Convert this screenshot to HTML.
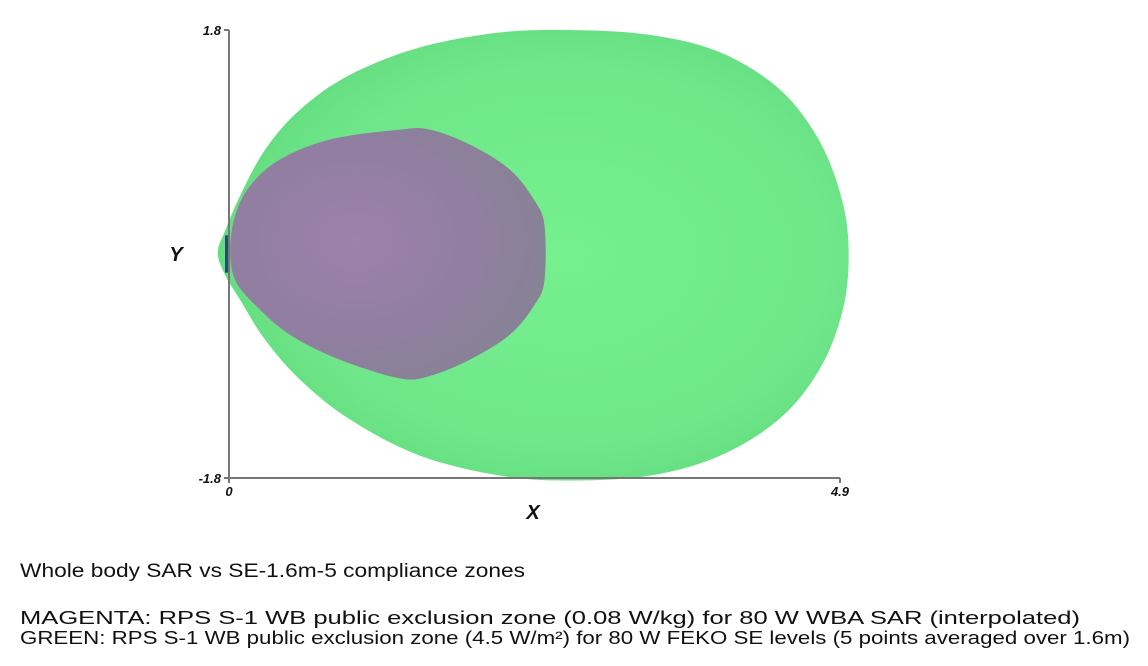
<!DOCTYPE html>
<html><head><meta charset="utf-8"><style>
html,body{margin:0;padding:0;background:#fff;}
svg{display:block;font-family:"Liberation Sans",sans-serif;}
</style></head><body>
<svg id="chart" width="1148" height="666" viewBox="0 0 1148 666" xmlns="http://www.w3.org/2000/svg">
<defs>
<radialGradient id="gGreen" cx="0.55" cy="0.5" r="0.6">
<stop offset="0" stop-color="#76f08e"/><stop offset="0.7" stop-color="#6fe78a"/><stop offset="1" stop-color="#60d87c"/>
</radialGradient>
<radialGradient id="gMag" cx="0.4" cy="0.45" r="0.6">
<stop offset="0" stop-color="#9c82ac"/><stop offset="0.6" stop-color="#927ea2"/><stop offset="1" stop-color="#888296"/>
</radialGradient>
</defs>
<g id="shapes"></g>
<g id="axes"></g>
<text x="20" y="577" font-size="19" textLength="505" lengthAdjust="spacingAndGlyphs" fill="#111">Whole body SAR vs SE-1.6m-5 compliance zones</text>
<text x="20" y="624" font-size="18" textLength="1060" lengthAdjust="spacingAndGlyphs" fill="#111">MAGENTA: RPS S-1 WB public exclusion zone (0.08 W/kg) for 80 W WBA SAR (interpolated)</text>
<text x="20" y="644" font-size="18" textLength="1110" lengthAdjust="spacingAndGlyphs" fill="#111">GREEN: RPS S-1 WB public exclusion zone (4.5 W/m²) for 80 W FEKO SE levels (5 points averaged over 1.6m)</text>
</svg>
<script>
const greenX=[-0.09,-0.03,0.09,0.29,0.57,0.97,1.53,2.17,2.73,3.38,3.94,4.42,4.74,4.92,4.97,4.92,4.74,4.42,3.94,3.38,2.73,2.17,1.53,0.97,0.57,0.29,0.09,-0.03];
const greenY=[0.01,0.19,0.47,0.84,1.16,1.44,1.66,1.78,1.80,1.76,1.62,1.32,0.90,0.42,-0.01,-0.46,-0.92,-1.32,-1.62,-1.78,-1.82,-1.78,-1.62,-1.33,-1.01,-0.69,-0.37,-0.17];
const magX=[0.01,0.05,0.17,0.41,0.81,1.37,1.61,1.93,2.25,2.45,2.53,2.53,2.45,2.25,1.93,1.61,1.37,0.89,0.49,0.21,0.05];
const magY=[0.03,0.31,0.55,0.76,0.92,1.00,1.00,0.88,0.68,0.43,0.23,-0.21,-0.41,-0.65,-0.85,-0.98,-1.00,-0.85,-0.65,-0.41,-0.21];
const xTicks=[0,4.9];
const xTickLabels=["0","4.9"];
const yTicks=[-1.8,1.8];
const yTickLabels=["-1.8","1.8"];
const X0=229,X1=840,Y0=478,Y1=30;
function sx(v){return X0+(v-0)/(4.9-0)*(X1-X0);}
function sy(v){return Y0-(v+1.8)/(3.6)*(Y0-Y1);}
const NS="http://www.w3.org/2000/svg";
function smooth(xs,ys){
  const p=xs.map((x,i)=>[sx(x),sy(ys[i])]);const n=p.length;
  let d="M"+p[0][0].toFixed(1)+","+p[0][1].toFixed(1);
  for(let i=0;i<n;i++){
    const p0=p[(i-1+n)%n],p1=p[i],p2=p[(i+1)%n],p3=p[(i+2)%n];
    const c1=[p1[0]+(p2[0]-p0[0])/6,p1[1]+(p2[1]-p0[1])/6];
    const c2=[p2[0]-(p3[0]-p1[0])/6,p2[1]-(p3[1]-p1[1])/6];
    d+="C"+c1.map(v=>v.toFixed(1)).join(",")+" "+c2.map(v=>v.toFixed(1)).join(",")+" "+p2[0].toFixed(1)+","+p2[1].toFixed(1);
  }
  return d+"Z";
}
const shapes=document.getElementById('shapes');
const g=document.createElementNS(NS,'path');
g.setAttribute('d',smooth(greenX,greenY));g.setAttribute('fill','url(#gGreen)');


shapes.appendChild(g);
const m=document.createElementNS(NS,'path');
m.setAttribute('d',smooth(magX,magY));m.setAttribute('fill','url(#gMag)');


shapes.appendChild(m);
const ant=document.createElementNS(NS,'rect');
ant.setAttribute('x',sx(0)-4);ant.setAttribute('y',sy(0.15));ant.setAttribute('width',5);ant.setAttribute('height',sy(-0.15)-sy(0.15));ant.setAttribute('fill','#1e4f6e');


shapes.appendChild(ant);
const axes=document.getElementById('axes');
function line(x1,y1,x2,y2,name){const l=document.createElementNS(NS,'line');l.setAttribute('x1',x1);l.setAttribute('y1',y1);l.setAttribute('x2',x2);l.setAttribute('y2',y2);l.setAttribute('stroke','#777');l.setAttribute('stroke-width','2');


axes.appendChild(l);}
function text(x,y,s,size,anchor,name){const t=document.createElementNS(NS,'text');t.setAttribute('x',x);t.setAttribute('y',y);t.setAttribute('font-size',size);t.setAttribute('font-style','italic');t.setAttribute('font-weight','bold');t.setAttribute('text-anchor',anchor);t.setAttribute('fill','#111');t.textContent=s;


axes.appendChild(t);}
line(sx(0),sy(1.8),sx(0),sy(-1.8)+4,'y-axis-line');
line(sx(0)-4,sy(-1.8),sx(4.9),sy(-1.8),'x-axis-line');
xTicks.forEach((v,i)=>{line(sx(v),sy(-1.8),sx(v),sy(-1.8)+5,'x-tick');text(sx(v),sy(-1.8)+18,xTickLabels[i],13,'middle','x-tick-label');});
yTicks.forEach((v,i)=>{line(sx(0)-5,sy(v),sx(0),sy(v),'y-tick');text(sx(0)-8,sy(v)+5,yTickLabels[i],13,'end','y-tick-label');});
text(533,519,'X',20,'middle','x-axis-title');
text(176,261,'Y',20,'middle','y-axis-title');
</script>
</body></html>
